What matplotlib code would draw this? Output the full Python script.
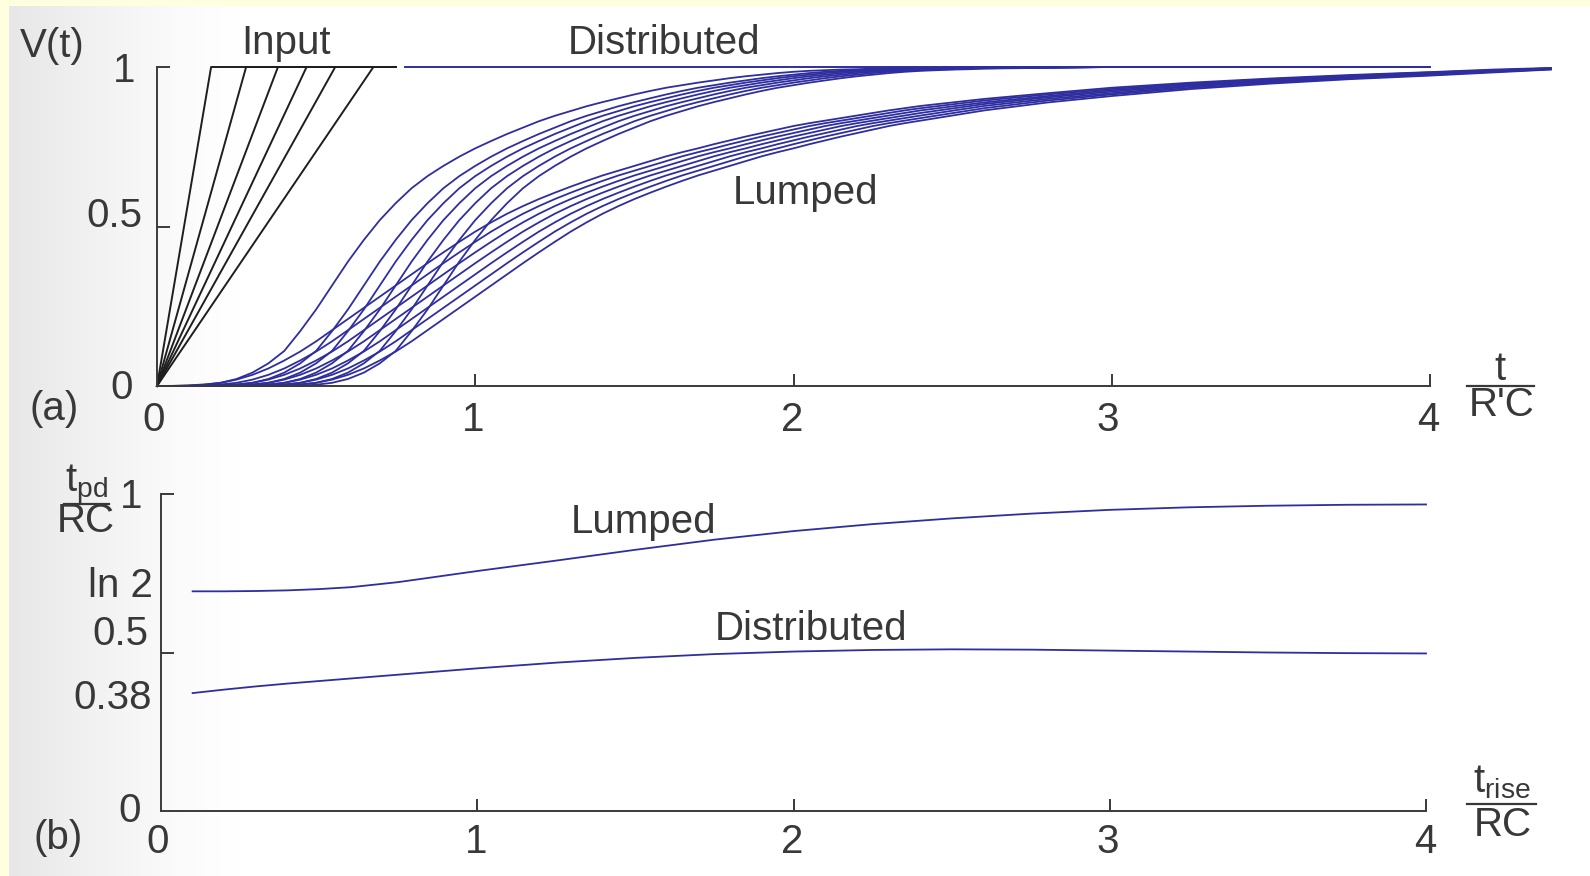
import numpy as np
import matplotlib
matplotlib.use("Agg")
import matplotlib.pyplot as plt
from matplotlib.lines import Line2D

plt.rcParams['font.family'] = ['Liberation Sans', 'DejaVu Sans']
plt.rcParams['mathtext.fontset'] = 'custom'
plt.rcParams['mathtext.rm'] = 'Liberation Sans'
plt.rcParams['mathtext.it'] = 'Liberation Sans'

W, H = 1590, 876
TXT = '#383838'
BLUE = '#2e2ea0'
INK = '#1e1e1e'

# ---------------- data: panel (a) ----------------
input_rise = [0.17, 0.28, 0.38, 0.47, 0.56, 0.68]   # ramp inputs (reach 1 at t_rise)
input_end = 0.75
dist_top_x = [0.78, 4.0]
dist_top_y = [1.0, 1.0]

dist_x = [0.00, 0.05, 0.10, 0.15, 0.20, 0.25, 0.30, 0.35, 0.40, 0.45, 0.50, 0.55, 0.60, 0.65,
          0.70, 0.75, 0.80, 0.85, 0.90, 0.95, 1.00, 1.05, 1.10, 1.15, 1.20, 1.25, 1.30, 1.35,
          1.40, 1.45, 1.50, 1.55, 1.60, 1.65, 1.70, 1.75, 1.80, 1.85, 1.90, 1.95, 2.00, 2.05,
          2.10, 2.15, 2.20, 2.25, 2.30, 2.35, 2.40, 2.45, 2.50, 2.55, 2.60, 3.00, 4.00]
dist_0 = [0, 0.0002, 0.001, 0.004, 0.010, 0.022, 0.042, 0.071, 0.110, 0.172, 0.240, 0.315, 0.390, 0.458,
          0.520, 0.573, 0.620, 0.658, 0.690, 0.719, 0.745, 0.768, 0.790, 0.810, 0.830, 0.847, 0.862, 0.877,
          0.890, 0.902, 0.914, 0.925, 0.935, 0.943, 0.951, 0.958, 0.965, 0.971, 0.976, 0.981, 0.985, 0.988,
          0.990, 0.992, 0.993, 0.995, 0.996, 0.997, 0.997, 0.998, 0.999, 0.999, 1.000, 1.0, 1.0]
dist_1 = [0, 0, 0, 0.0002, 0.001, 0.004, 0.010, 0.022, 0.042, 0.071, 0.110, 0.172, 0.240, 0.315,
          0.390, 0.458, 0.520, 0.573, 0.620, 0.658, 0.690, 0.719, 0.745, 0.768, 0.790, 0.810, 0.830, 0.847,
          0.862, 0.877, 0.890, 0.902, 0.914, 0.925, 0.935, 0.943, 0.951, 0.958, 0.965, 0.971, 0.976, 0.981,
          0.985, 0.988, 0.990, 0.992, 0.993, 0.995, 0.996, 0.997, 0.997, 0.998, 0.999, 1.0, 1.0]
dist_2 = [0, 0, 0, 0, 0.0002, 0.001, 0.004, 0.010, 0.022, 0.042, 0.071, 0.110, 0.172, 0.240,
          0.315, 0.390, 0.458, 0.520, 0.573, 0.620, 0.658, 0.690, 0.719, 0.745, 0.768, 0.790, 0.810, 0.830,
          0.847, 0.862, 0.877, 0.890, 0.902, 0.914, 0.925, 0.935, 0.943, 0.951, 0.958, 0.965, 0.971, 0.976,
          0.981, 0.985, 0.988, 0.990, 0.992, 0.993, 0.995, 0.996, 0.997, 0.997, 0.998, 1.0, 1.0]
dist_3 = [0, 0, 0, 0, 0, 0.0002, 0.001, 0.004, 0.010, 0.022, 0.042, 0.071, 0.110, 0.172,
          0.240, 0.315, 0.390, 0.458, 0.520, 0.573, 0.620, 0.658, 0.690, 0.719, 0.745, 0.768, 0.790, 0.810,
          0.830, 0.847, 0.862, 0.877, 0.890, 0.902, 0.914, 0.925, 0.935, 0.943, 0.951, 0.958, 0.965, 0.971,
          0.976, 0.981, 0.985, 0.988, 0.990, 0.992, 0.993, 0.995, 0.996, 0.997, 0.997, 1.0, 1.0]
dist_4 = [0, 0, 0, 0, 0, 0, 0.0002, 0.001, 0.004, 0.010, 0.022, 0.042, 0.071, 0.110,
          0.172, 0.240, 0.315, 0.390, 0.458, 0.520, 0.573, 0.620, 0.658, 0.690, 0.719, 0.745, 0.768, 0.790,
          0.810, 0.830, 0.847, 0.862, 0.877, 0.890, 0.902, 0.914, 0.925, 0.935, 0.943, 0.951, 0.958, 0.965,
          0.971, 0.976, 0.981, 0.985, 0.988, 0.990, 0.992, 0.993, 0.995, 0.996, 0.997, 1.0, 1.0]
dist_5 = [0, 0, 0, 0, 0, 0, 0, 0.0002, 0.001, 0.004, 0.010, 0.022, 0.042, 0.071,
          0.110, 0.172, 0.240, 0.315, 0.390, 0.458, 0.520, 0.573, 0.620, 0.658, 0.690, 0.719, 0.745, 0.768,
          0.790, 0.810, 0.830, 0.847, 0.862, 0.877, 0.890, 0.902, 0.914, 0.925, 0.935, 0.943, 0.951, 0.958,
          0.965, 0.971, 0.976, 0.981, 0.985, 0.988, 0.990, 0.992, 0.993, 0.995, 0.996, 1.0, 1.0]
dist_6 = [0, 0, 0, 0, 0, 0, 0, 0, 0.0002, 0.001, 0.004, 0.010, 0.022, 0.042,
          0.071, 0.110, 0.172, 0.240, 0.315, 0.390, 0.458, 0.520, 0.573, 0.620, 0.658, 0.690, 0.719, 0.745,
          0.768, 0.790, 0.810, 0.830, 0.847, 0.862, 0.877, 0.890, 0.902, 0.914, 0.925, 0.935, 0.943, 0.951,
          0.958, 0.965, 0.971, 0.976, 0.981, 0.985, 0.988, 0.990, 0.992, 0.993, 0.995, 1.0, 1.0]
dist_curves = [dist_0, dist_1, dist_2, dist_3, dist_4, dist_5, dist_6]

lump_x = [0.00, 0.05, 0.10, 0.15, 0.20, 0.25, 0.30, 0.35, 0.40, 0.45, 0.50, 0.55, 0.60, 0.65,
          0.70, 0.75, 0.80, 0.85, 0.90, 0.95, 1.00, 1.05, 1.10, 1.15, 1.20, 1.25, 1.30, 1.35,
          1.40, 1.45, 1.50, 1.55, 1.60, 1.65, 1.70, 1.75, 1.80, 1.85, 1.90, 1.95, 2.00, 2.05,
          2.10, 2.15, 2.20, 2.25, 2.30, 2.35, 2.40,
          2.60, 2.80, 3.00, 3.25, 3.50, 3.75, 4.00, 4.20, 4.38]
lump_0 = [0, 0.0005, 0.002, 0.005, 0.010, 0.020, 0.035, 0.055, 0.080, 0.108, 0.140, 0.175, 0.210, 0.245,
          0.280, 0.315, 0.350, 0.385, 0.419, 0.452, 0.484, 0.513, 0.540, 0.564, 0.586, 0.606, 0.625, 0.643,
          0.660, 0.675, 0.690, 0.705, 0.720, 0.733, 0.745, 0.758, 0.770, 0.782, 0.793, 0.804, 0.815, 0.824,
          0.832, 0.840, 0.848, 0.856, 0.864, 0.871, 0.878,
          0.900, 0.918, 0.935, 0.951, 0.964, 0.975, 0.984, 0.992, 0.997]
lump_1 = [0, 0, 0.0005, 0.002, 0.005, 0.010, 0.020, 0.035, 0.055, 0.080, 0.108, 0.140, 0.175, 0.210,
          0.245, 0.280, 0.315, 0.350, 0.385, 0.419, 0.452, 0.484, 0.513, 0.540, 0.564, 0.586, 0.606, 0.625,
          0.643, 0.660, 0.675, 0.690, 0.705, 0.720, 0.733, 0.745, 0.758, 0.770, 0.782, 0.793, 0.804, 0.815,
          0.824, 0.832, 0.840, 0.848, 0.856, 0.864, 0.871,
          0.895, 0.914, 0.931, 0.948, 0.962, 0.973, 0.983, 0.990, 0.996]
lump_2 = [0, 0, 0, 0.0005, 0.002, 0.005, 0.010, 0.020, 0.035, 0.055, 0.080, 0.108, 0.140, 0.175,
          0.210, 0.245, 0.280, 0.315, 0.350, 0.385, 0.419, 0.452, 0.484, 0.513, 0.540, 0.564, 0.586, 0.606,
          0.625, 0.643, 0.660, 0.675, 0.690, 0.705, 0.720, 0.733, 0.745, 0.758, 0.770, 0.782, 0.793, 0.804,
          0.815, 0.824, 0.832, 0.840, 0.848, 0.856, 0.864,
          0.889, 0.909, 0.927, 0.945, 0.959, 0.971, 0.981, 0.989, 0.996]
lump_3 = [0, 0, 0, 0, 0.0005, 0.002, 0.005, 0.010, 0.020, 0.035, 0.055, 0.080, 0.108, 0.140,
          0.175, 0.210, 0.245, 0.280, 0.315, 0.350, 0.385, 0.419, 0.452, 0.484, 0.513, 0.540, 0.564, 0.586,
          0.606, 0.625, 0.643, 0.660, 0.675, 0.690, 0.705, 0.720, 0.733, 0.745, 0.758, 0.770, 0.782, 0.793,
          0.804, 0.815, 0.824, 0.832, 0.840, 0.848, 0.856,
          0.884, 0.905, 0.923, 0.942, 0.957, 0.969, 0.979, 0.988, 0.995]
lump_4 = [0, 0, 0, 0, 0, 0.0005, 0.002, 0.005, 0.010, 0.020, 0.035, 0.055, 0.080, 0.108,
          0.140, 0.175, 0.210, 0.245, 0.280, 0.315, 0.350, 0.385, 0.419, 0.452, 0.484, 0.513, 0.540, 0.564,
          0.586, 0.606, 0.625, 0.643, 0.660, 0.675, 0.690, 0.705, 0.720, 0.733, 0.745, 0.758, 0.770, 0.782,
          0.793, 0.804, 0.815, 0.824, 0.832, 0.840, 0.848,
          0.878, 0.900, 0.918, 0.939, 0.954, 0.967, 0.977, 0.986, 0.994]
lump_5 = [0, 0, 0, 0, 0, 0, 0.0005, 0.002, 0.005, 0.010, 0.020, 0.035, 0.055, 0.080,
          0.108, 0.140, 0.175, 0.210, 0.245, 0.280, 0.315, 0.350, 0.385, 0.419, 0.452, 0.484, 0.513, 0.540,
          0.564, 0.586, 0.606, 0.625, 0.643, 0.660, 0.675, 0.690, 0.705, 0.720, 0.733, 0.745, 0.758, 0.770,
          0.782, 0.793, 0.804, 0.815, 0.824, 0.832, 0.840,
          0.871, 0.895, 0.914, 0.935, 0.951, 0.964, 0.975, 0.985, 0.993]
lump_6 = [0, 0, 0, 0, 0, 0, 0, 0.0005, 0.002, 0.005, 0.010, 0.020, 0.035, 0.055,
          0.080, 0.108, 0.140, 0.175, 0.210, 0.245, 0.280, 0.315, 0.350, 0.385, 0.419, 0.452, 0.484, 0.513,
          0.540, 0.564, 0.586, 0.606, 0.625, 0.643, 0.660, 0.675, 0.690, 0.705, 0.720, 0.733, 0.745, 0.758,
          0.770, 0.782, 0.793, 0.804, 0.815, 0.824, 0.832,
          0.864, 0.889, 0.909, 0.931, 0.948, 0.962, 0.973, 0.983, 0.992]
lump_curves = [lump_0, lump_1, lump_2, lump_3, lump_4, lump_5, lump_6]

for c in dist_curves:
    assert len(c) == len(dist_x), len(c)
for c in lump_curves:
    assert len(c) == len(lump_x), len(c)

# ---------------- data: panel (b) ----------------
b_x = [0.1, 0.2, 0.3, 0.4, 0.5, 0.6, 0.75, 0.9, 1.0, 1.25, 1.5, 1.75, 2.0, 2.25, 2.5, 2.75,
       3.0, 3.25, 3.5, 3.75, 4.0]
b_lumped = [0.693, 0.693, 0.694, 0.696, 0.700, 0.706, 0.722, 0.743, 0.757, 0.790, 0.824, 0.856,
            0.883, 0.905, 0.923, 0.938, 0.950, 0.958, 0.963, 0.966, 0.967]
b_distributed = [0.372, 0.383, 0.393, 0.402, 0.410, 0.418, 0.430, 0.442, 0.450, 0.468, 0.483,
                 0.495, 0.503, 0.508, 0.510, 0.509, 0.506, 0.503, 0.500, 0.498, 0.497]

a_xticks = [0, 1, 2, 3, 4]
b_xticks = [0, 1, 2, 3, 4]

# ---------------- figure ----------------
fig = plt.figure(figsize=(W / 100, H / 100), dpi=100)

def fx(px):
    return px / W

def fy(py):
    return 1 - py / H

# background: yellow frame + greyish scanned page
bg = fig.add_axes([0, 0, 1, 1])
bg.set_axis_off()
cols = np.arange(W)
shade = np.clip(1 - (cols - 10) / 230.0, 0, 1) ** 1.3
grey = 255 - 24 * shade
img = np.ones((H, W, 3))
for ch in range(3):
    img[:, :, ch] = grey[None, :] / 255
yellow = np.array([255, 255, 224]) / 255
img[:, :9, :] = yellow
img[:6, :, :] = yellow
bg.imshow(img, extent=[0, 1, 0, 1], aspect='auto')
bg.set_xlim(0, 1)
bg.set_ylim(0, 1)


def make_axes(x0px, x4px, y0px, y1px, xmax):
    unit = (x4px - x0px) / 4.0
    ax = fig.add_axes([fx(x0px), fy(y0px), unit * xmax / W, (y0px - y1px) / H])
    ax.set_xlim(0, xmax)
    ax.set_ylim(0, 1)
    ax.patch.set_alpha(0)
    for s in ['top', 'right']:
        ax.spines[s].set_visible(False)
    for s in ['left', 'bottom']:
        ax.spines[s].set_color('#3a3a3a')
        ax.spines[s].set_linewidth(1.4)
    ax.spines['bottom'].set_bounds(0, 4)
    ax.spines['left'].set_bounds(0, 1)
    ax.set_xticks([1, 2, 3, 4])
    ax.set_yticks([0.5, 1])
    ax.tick_params(direction='in', length=9, width=1.4, color='#3a3a3a',
                   labelbottom=False, labelleft=False)
    return ax

# ---------------- panel (a) ----------------
axa = make_axes(157, 1430, 386, 67, 4.5)
for tr in input_rise:
    axa.plot([0, tr, input_end], [0, 1, 1], color=INK, lw=1.4, clip_on=False)
axa.plot(dist_top_x, dist_top_y, color=BLUE, lw=1.4, clip_on=False)
for yv in dist_curves:
    axa.plot(dist_x, yv, color=BLUE, lw=1.3, clip_on=False)
for yv in lump_curves:
    axa.plot(lump_x, yv, color=BLUE, lw=1.3, clip_on=False)

FS = 29
def t(px, py, s, size=FS, ha='center', va='center'):
    fig.text(fx(px), fy(py), s, fontsize=size, color=TXT, ha=ha, va=va)

t(52, 46, 'V(t)')
t(124, 71, '1')
t(114, 216, '0.5')
t(122, 388, '0')
t(54, 409, '(a)')
for v, px in zip(a_xticks, [154, 473, 792, 1108, 1428]):
    t(px, 420, str(v))
t(1500, 369, 't')
fig.add_artist(Line2D([fx(1467), fx(1534)], [fy(386), fy(386)], color=TXT, lw=1.6))
t(1502, 405, "R'C")
t(286, 43, 'Input')
t(664, 43, 'Distributed')
t(806, 193, 'Lumped')

# ---------------- panel (b) ----------------
axb = make_axes(161, 1426, 811, 494, 4.0)
axb.plot(b_x, b_lumped, color=BLUE, lw=1.3, clip_on=False)
axb.plot(b_x, b_distributed, color=BLUE, lw=1.3, clip_on=False)

t(87, 484, r'$\mathregular{t_{pd}}$')
fig.add_artist(Line2D([fx(64), fx(109)], [fy(504), fy(504)], color=TXT, lw=1.6))
t(86, 521, 'RC')
t(131, 497, '1')
t(120, 586, 'ln 2')
t(120, 634, '0.5')
t(113, 698, '0.38')
t(130, 811, '0')
t(58, 838, '(b)')
for v, px in zip(b_xticks, [158, 476, 792, 1108, 1425]):
    t(px, 842, str(v))
t(1502, 782, r'$\mathregular{t_{rise}}$')
fig.add_artist(Line2D([fx(1467), fx(1536)], [fy(804), fy(804)], color=TXT, lw=1.6))
t(1503, 825, 'RC')
t(644, 522, 'Lumped')
t(811, 629, 'Distributed')

fig.savefig('out.png', dpi=100)
